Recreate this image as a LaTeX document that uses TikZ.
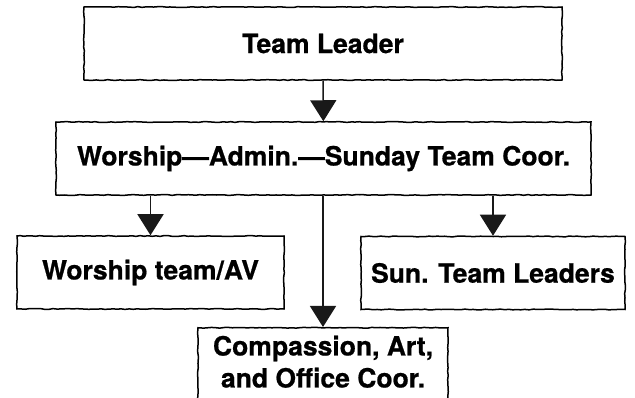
\documentclass[tikz,border=0pt]{standalone}
\usepackage{fontspec}
\setmainfont{TeX Gyre Heros}[BoldFeatures={FakeBold=0.7}]
\usetikzlibrary{arrows.meta, positioning, decorations.pathmorphing}

\begin{document}
\pgfmathsetseed{17}
\begin{tikzpicture}[x=1pt,y=-1pt,
	box/.style={draw=black, line width=1.5pt, fill=white, minimum height=73pt,
		inner sep=0pt, align=center, font=\fontsize{26.5}{32}\selectfont\bfseries,
		decorate, decoration={random steps, segment length=4pt, amplitude=0.4pt}},
	link/.style={-{Triangle[width=26pt,length=21pt]}, line width=1.5pt, color=black!90}]
			\clip (0,0) rectangle (635,398);
			% boxes, top to bottom
			\node[box, minimum width=478pt] (lead) at (323,43.5) {Team Leader};
			\node[box, minimum width=535pt] (coord) at (323.5,158.5) {Worship—Admin.—Sunday Team Coor.};
			\node[box, minimum width=267pt] (worship) at (150.5,272.5) {Worship team/AV};
			\node[box, minimum width=264pt] (sunday) at (493,273) {Sun. Team Leaders};
			\node[box, minimum width=250pt, anchor=north, inner ysep=8pt, text depth=40pt] (office) at (323,327) {Compassion, Art,\\ and Office Coor.};
			\path[link]
				(lead) edge (coord)
				(coord.south -| worship.north) edge (worship.north)
				(coord.south -| sunday.north) edge (sunday.north)
				(coord.south -| office.north) edge (office.north);
		\end{tikzpicture}
\end{document}
